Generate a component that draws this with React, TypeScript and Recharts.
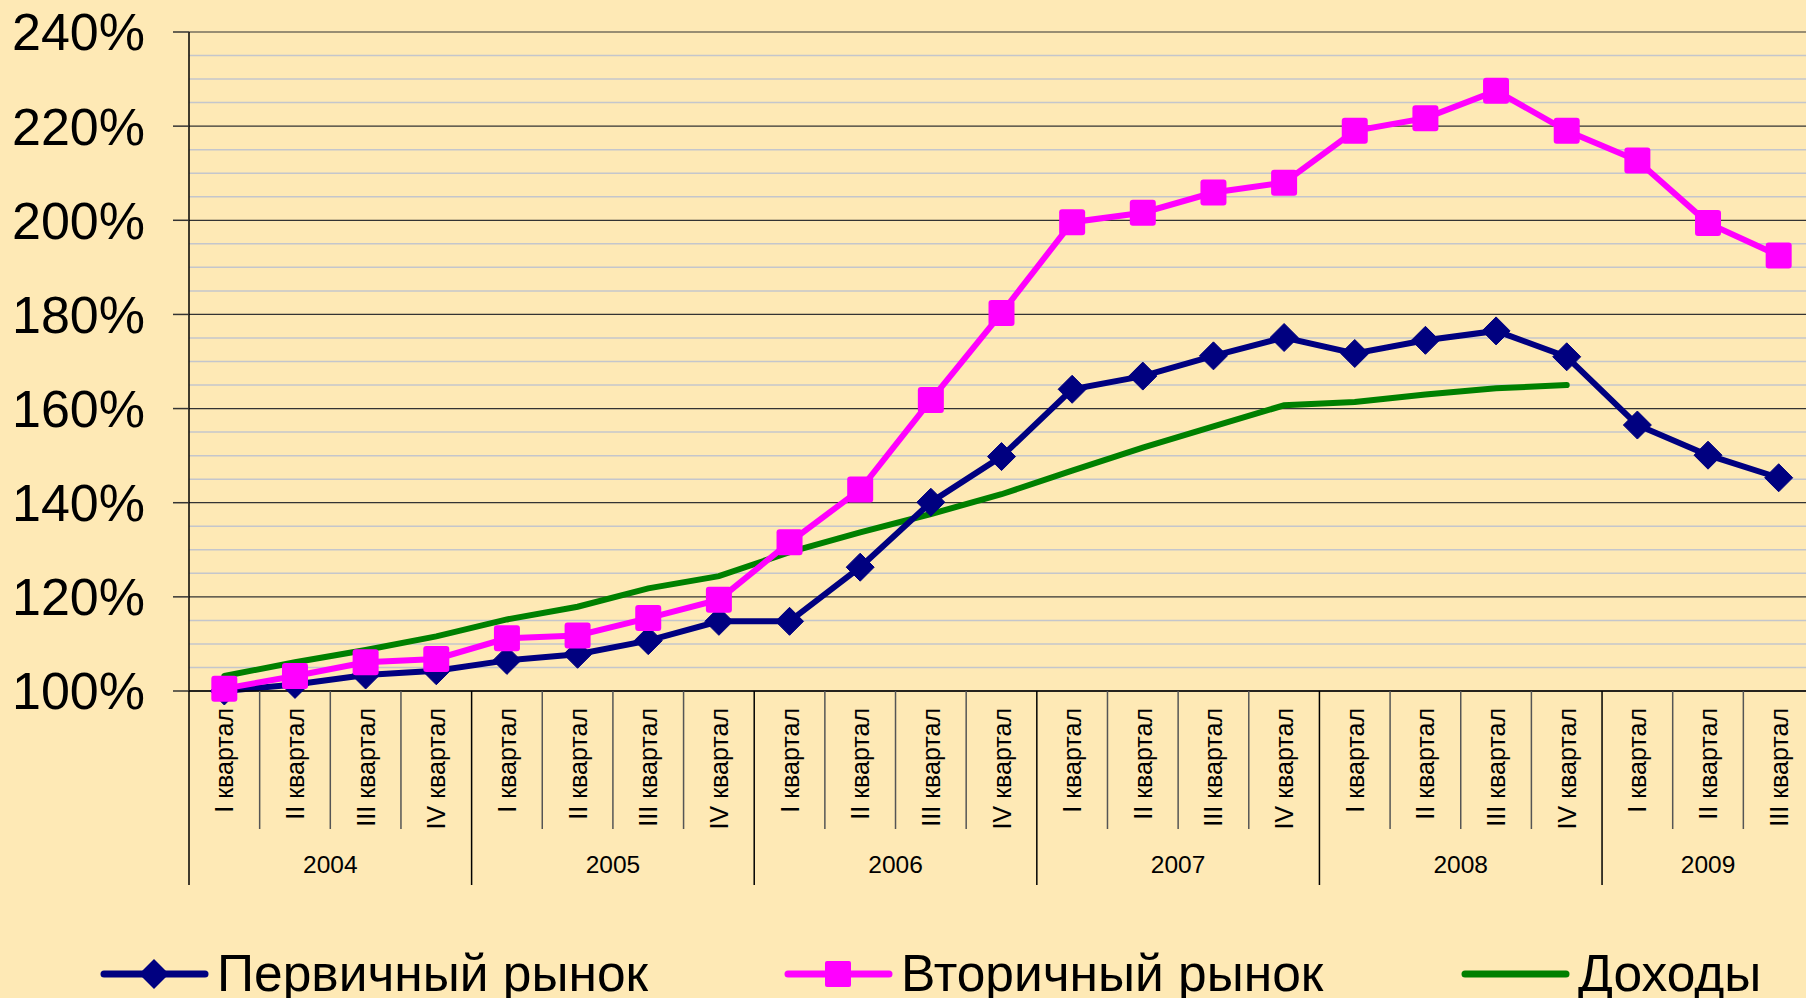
import { CartesianGrid, Line, LineChart, XAxis, YAxis } from 'recharts';

const quarters = [
  'I квартал', 'II квартал', 'III квартал', 'IV квартал',
  'I квартал', 'II квартал', 'III квартал', 'IV квартал',
  'I квартал', 'II квартал', 'III квартал', 'IV квартал',
  'I квартал', 'II квартал', 'III квартал', 'IV квартал',
  'I квартал', 'II квартал', 'III квартал', 'IV квартал',
  'I квартал', 'II квартал', 'III квартал',
];
const yearLabels = ['2004', '2005', '2006', '2007', '2008', '2009'];
const yearQuarterCounts = [4, 4, 4, 4, 4, 3];

const primary = [
  100.0, 101.4, 103.4, 104.3, 106.5, 107.8, 110.7, 114.8, 114.8, 126.3, 140.1, 149.8,
  164.1, 166.9, 171.2, 175.1, 171.7, 174.5, 176.5, 171.0, 156.5, 150.1, 145.3,
];
const secondary = [
  100.5, 103.2, 106.1, 106.8, 111.2, 111.8, 115.5, 119.4, 131.6, 142.8, 161.8, 180.3,
  199.6, 201.6, 205.9, 208.0, 219.0, 221.7, 227.5, 219.0, 212.7, 199.4, 192.5,
];
const income = [
  103.2, 106.1, 108.7, 111.6, 115.2, 117.9, 121.8, 124.4, 129.5, 133.7, 137.6, 141.8,
  146.8, 151.7, 156.2, 160.7, 161.4, 163.0, 164.3, 165.0,
];

const majorTicks = [100, 120, 140, 160, 180, 200, 220, 240];
const minorTicks = [
  105, 110, 115, 125, 130, 135, 145, 150, 155, 165, 170, 175,
  185, 190, 195, 205, 210, 215, 225, 230, 235,
];

// layout (px)
const CHART_W = 1830;
const CHART_H = 998;
const PLOT_LEFT = 189;
const PLOT_TOP = 32;
const PLOT_RIGHT = 1814;
const AXIS_Y = 691;
const BAND = (PLOT_RIGHT - PLOT_LEFT) / quarters.length;

const BG = '#FEE9B5';
const NAVY = '#000080';
const MAGENTA = '#FF00FF';
const GREEN = '#008000';
const FONT = '"Liberation Sans", Arial, sans-serif';

// year start index for each category
const yearStarts: Record<number, number> = {};
{
  let acc = 0;
  yearQuarterCounts.forEach((n, yi) => {
    yearStarts[acc] = yi;
    acc += n;
  });
}

const data = quarters.map((q, i) => ({
  q: `${i}`,
  label: q,
  primary: primary[i],
  secondary: secondary[i],
  income: i < income.length ? income[i] : null,
}));

function QuarterTick(props: any) {
  const { x, y, index } = props;
  const left = x - BAND / 2;
  const yi = yearStarts[index];
  const isYearStart = yi !== undefined;
  return (
    <g>
      <line
        x1={left}
        x2={left}
        y1={y}
        y2={y + (isYearStart ? 194 : 138)}
        stroke={isYearStart ? '#000' : '#555'}
        strokeWidth={1.5}
      />
      <text
        transform={`translate(${x}, ${y + 17}) rotate(-90)`}
        textAnchor="end"
        dominantBaseline="central"
        fontSize={25}
        fontFamily={FONT}
        fill="#000"
      >
        {quarters[index]}
      </text>
      {isYearStart && (
        <text
          x={left + (yearQuarterCounts[yi] * BAND) / 2}
          y={y + 173}
          textAnchor="middle"
          dominantBaseline="central"
          fontSize={24.5}
          fontFamily={FONT}
          fill="#000"
        >
          {yearLabels[yi]}
        </text>
      )}
    </g>
  );
}

function Diamond(props: any) {
  const { cx, cy, index } = props;
  if (cx == null || cy == null) return <g key={index} />;
  const h = 14;
  return (
    <path
      key={index}
      d={`M${cx},${cy - h} L${cx + h},${cy} L${cx},${cy + h} L${cx - h},${cy} Z`}
      fill={NAVY}
      stroke={NAVY}
      strokeWidth={1}
      strokeLinejoin="round"
    />
  );
}

function Square(props: any) {
  const { cx, cy, index } = props;
  if (cx == null || cy == null) return <g key={index} />;
  const s = 26;
  return <rect key={index} x={cx - s / 2} y={cy - s / 2} width={s} height={s} rx={3} fill={MAGENTA} />;
}

function LegendBlock() {
  const items = [
    { name: 'Первичный рынок', color: NAVY, x: 104, mark: 'diamond' },
    { name: 'Вторичный рынок', color: MAGENTA, x: 788, mark: 'square' },
    { name: 'Доходы', color: GREEN, x: 1465, mark: 'none' },
  ];
  return (
    <svg width={1806} height={80} style={{ position: 'absolute', left: 0, top: 934 }}>
      {items.map((it) => {
        const cy = 40;
        const mid = it.x + 50;
        return (
          <g key={it.name}>
            <line x1={it.x} x2={it.x + 101} y1={cy} y2={cy} stroke={it.color} strokeWidth={7} strokeLinecap="round" />
            {it.mark === 'diamond' && (
              <path d={`M${mid},${cy - 15} L${mid + 15},${cy} L${mid},${cy + 15} L${mid - 15},${cy} Z`} fill={it.color} />
            )}
            {it.mark === 'square' && <rect x={mid - 13} y={cy - 13} width={26} height={26} rx={2} fill={it.color} />}
            <text x={it.x + 113} y={cy + 17} fontSize={51.5} fontFamily={FONT} fill="#000">
              {it.name}
            </text>
          </g>
        );
      })}
    </svg>
  );
}

export default function App() {
  return (
    <div
      style={{
        position: 'absolute',
        left: 0,
        top: 0,
        width: 1806,
        height: 998,
        overflow: 'hidden',
        background: BG,
        fontFamily: FONT,
      }}
    >
      <LineChart
        width={CHART_W}
        height={CHART_H}
        data={data}
        margin={{ top: PLOT_TOP, right: CHART_W - PLOT_RIGHT, bottom: 0, left: 0 }}
      >
        <CartesianGrid vertical={false} horizontalValues={minorTicks} stroke="#C4C6CC" strokeWidth={1.5} />
        <CartesianGrid vertical={false} horizontalValues={majorTicks} stroke="#333" strokeWidth={1.2} />
        <XAxis
          dataKey="q"
          interval={0}
          height={CHART_H - AXIS_Y}
          padding={{ left: BAND / 2, right: BAND / 2 }}
          tickLine={false}
          tickSize={0}
          tickMargin={0}
          axisLine={{ stroke: '#000', strokeWidth: 1.5 }}
          tick={(p: any) => <QuarterTick {...p} />}
        />
        <YAxis
          width={PLOT_LEFT}
          domain={[100, 240]}
          ticks={majorTicks}
          interval={0}
          tickSize={16}
          tickMargin={28}
          tickFormatter={(v: number) => `${v}%`}
          axisLine={{ stroke: '#000', strokeWidth: 1.5 }}
          tickLine={{ stroke: '#333', strokeWidth: 1.5 }}
          tick={{ fill: '#000', fontSize: 52, fontFamily: FONT }}
        />
        <Line
          dataKey="income"
          stroke={GREEN}
          strokeWidth={6}
          strokeLinecap="round"
          dot={false}
          activeDot={false}
          isAnimationActive={false}
        />
        <Line
          dataKey="primary"
          stroke={NAVY}
          strokeWidth={6}
          dot={Diamond}
          activeDot={false}
          isAnimationActive={false}
        />
        <Line
          dataKey="secondary"
          stroke={MAGENTA}
          strokeWidth={6}
          dot={Square}
          activeDot={false}
          isAnimationActive={false}
        />
      </LineChart>
      <LegendBlock />
    </div>
  );
}
